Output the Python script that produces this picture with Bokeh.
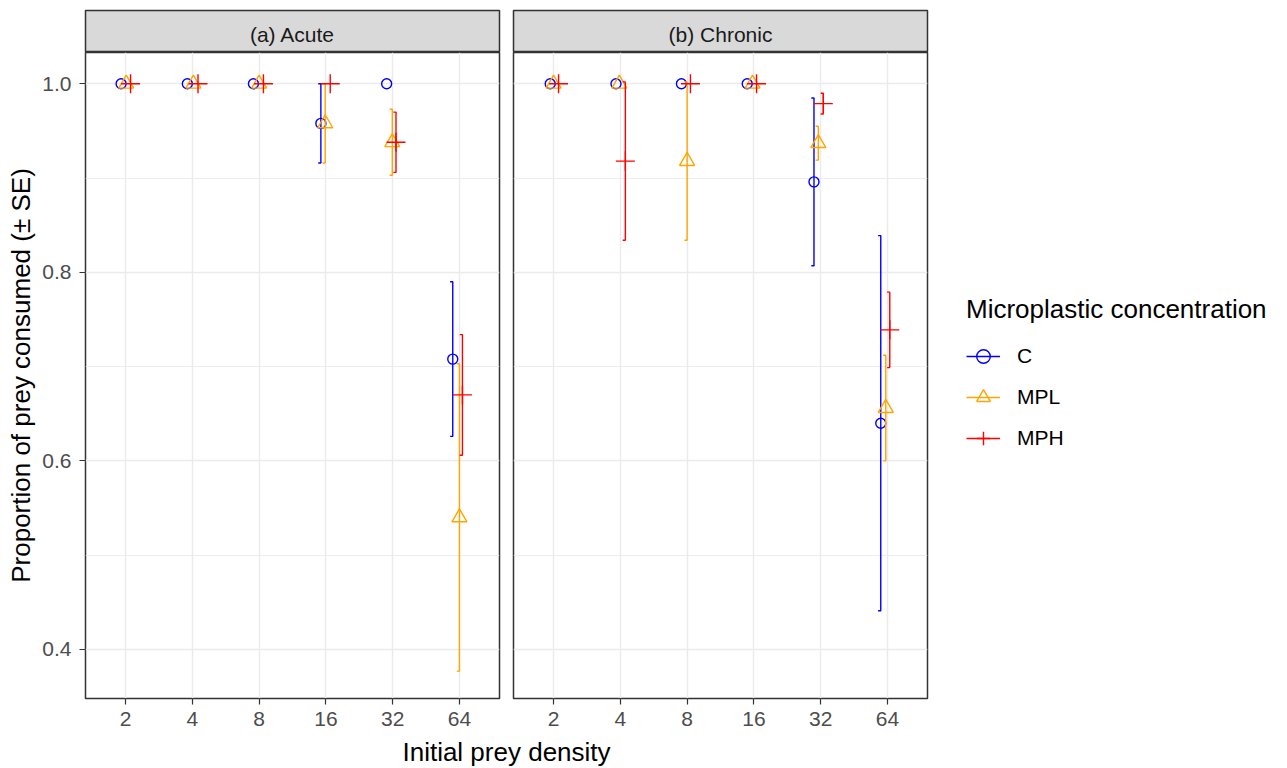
import numpy as np
from bokeh.plotting import figure
from bokeh.models import FixedTicker, Range1d, Legend, LegendItem, PrintfTickFormatter
from bokeh.layouts import column, row
from bokeh.embed import file_html
from bokeh.resources import INLINE
from bokeh.core.properties import value

# ---------------- data ----------------
densities = ["2", "4", "8", "16", "32", "64"]
groups = ["C", "MPL", "MPH"]
panel_titles = ["(a) Acute", "(b) Chronic"]
legend_title = "Microplastic concentration"
x_title = "Initial prey density"
y_title = "Proportion of prey consumed (\u00b1 SE)"
y_ticks = [0.4, 0.6, 0.8, 1.0]
y_minor = [0.5, 0.7, 0.9]

# (a) Acute
acute_C = [1.0, 1.0, 1.0, 0.958, 1.0, 0.708]
acute_C_se = [0, 0, 0, 0.042, 0, 0.082]
acute_MPL = [1.0, 1.0, 1.0, 0.958, 0.938, 0.540]
acute_MPL_se = [0, 0, 0, 0.042, 0.035, 0.163]
acute_MPH = [1.0, 1.0, 1.0, 1.0, 0.938, 0.670]
acute_MPH_se = [0, 0, 0, 0, 0.032, 0.064]

# (b) Chronic
chronic_C = [1.0, 1.0, 1.0, 1.0, 0.896, 0.640]
chronic_C_se = [0, 0, 0, 0, 0.089, 0.199]
chronic_MPL = [1.0, 1.0, 0.918, 1.0, 0.937, 0.656]
chronic_MPL_se = [0, 0, 0.084, 0, 0.018, 0.056]
chronic_MPH = [1.0, 0.918, 1.0, 1.0, 0.979, 0.739]
chronic_MPH_se = [0, 0.084, 0, 0, 0.011, 0.040]

# horizontal jitter of each point (category units)
acute_C_jit = [-0.067, -0.075, -0.085, -0.075, -0.09, -0.10]
acute_MPL_jit = [0.01, 0.015, 0.0, -0.01, -0.005, 0.0]
acute_MPH_jit = [0.075, 0.085, 0.065, 0.065, 0.05, 0.045]
chronic_C_jit = [-0.05, -0.065, -0.085, -0.10, -0.10, -0.10]
chronic_MPL_jit = [0.0, -0.015, 0.0, -0.02, -0.035, -0.025]
chronic_MPH_jit = [0.075, 0.075, 0.05, 0.04, 0.04, 0.035]

# ---------------- styling ----------------
FONT = "Liberation Sans"
colors = {"C": "#0000FF", "MPL": "#FFA500", "MPH": "#FF0000"}
markers = {"C": "circle", "MPL": "triangle", "MPH": "cross"}
msizes = {"C": 10, "MPL": 15, "MPH": 19}
FW, FH = 414, 646
YLO, YHI = 0.348, 1.0332
CAP_L, CAP_R = 0.04, 0.005
LEFT_B, GAP, RIGHT_B = 85, 7, 355

panels = [
    {"C": (acute_C, acute_C_se, acute_C_jit),
     "MPL": (acute_MPL, acute_MPL_se, acute_MPL_jit),
     "MPH": (acute_MPH, acute_MPH_se, acute_MPH_jit)},
    {"C": (chronic_C, chronic_C_se, chronic_C_jit),
     "MPL": (chronic_MPL, chronic_MPL_se, chronic_MPL_jit),
     "MPH": (chronic_MPH, chronic_MPH_se, chronic_MPH_jit)},
]

cat_pos = np.arange(1, len(densities) + 1)


def style_axis(ax, standoff):
    ax.axis_line_color = None
    ax.major_tick_line_color = "#333333"
    ax.major_tick_line_width = 1.2
    ax.major_tick_out = 6
    ax.major_tick_in = 0
    ax.minor_tick_line_color = None
    ax.major_label_text_font = FONT
    ax.major_label_text_font_size = "21px"
    ax.major_label_text_color = "#4D4D4D"
    ax.major_label_standoff = standoff


def make_strip(text, is_left):
    s = figure(frame_width=FW, frame_height=42, x_range=Range1d(0, 1), y_range=Range1d(0, 1),
               x_axis_location=None, y_axis_location=None, toolbar_location=None, tools="",
               output_backend="svg", title=None,
               min_border_left=LEFT_B if is_left else GAP,
               min_border_right=GAP if is_left else RIGHT_B,
               min_border_top=10, min_border_bottom=0,
               background_fill_color="#D9D9D9", outline_line_color="#333333",
               outline_line_width=1.5)
    s.grid.visible = False
    s.text(x=[0.5], y=[0.42], text=[text], text_align="center", text_baseline="middle",
           text_font=value(FONT), text_font_size="21px", text_color="#1A1A1A")
    return s


def make_panel(data, is_left):
    p = figure(frame_width=FW, frame_height=FH, x_range=Range1d(0.4, 6.6),
               y_range=Range1d(YLO, YHI), x_axis_location="below",
               y_axis_location="left" if is_left else None,
               toolbar_location=None, tools="", output_backend="svg", title=None,
               min_border_left=LEFT_B if is_left else GAP,
               min_border_right=GAP if is_left else RIGHT_B,
               min_border_top=0, min_border_bottom=40,
               outline_line_color="#333333", outline_line_width=1.5)
    xt = FixedTicker(ticks=list(cat_pos))
    yt = FixedTicker(ticks=y_ticks, minor_ticks=y_minor)
    p.xaxis.ticker = xt
    p.xaxis.major_label_overrides = {int(i): d for i, d in zip(cat_pos, densities)}
    p.xgrid.ticker = xt
    p.ygrid.ticker = yt
    p.xgrid.grid_line_color = "#EBEBEB"
    p.xgrid.grid_line_width = 1.4
    p.ygrid.grid_line_color = "#EBEBEB"
    p.ygrid.grid_line_width = 1.4
    p.ygrid.minor_grid_line_color = "#EBEBEB"
    p.ygrid.minor_grid_line_width = 0.9
    for ax in p.xaxis:
        style_axis(ax, 7)
    if is_left:
        p.yaxis.ticker = yt
        p.yaxis.formatter = PrintfTickFormatter(format="%.1f")
        for ax in p.yaxis:
            style_axis(ax, 8)
            ax.axis_label = y_title
            ax.axis_label_text_font = FONT
            ax.axis_label_text_font_size = "26px"
            ax.axis_label_text_font_style = "normal"
            ax.axis_label_text_color = "#000000"
            ax.axis_label_standoff = 3

    rends = {}
    for g in groups:
        vals, ses, jit = data[g]
        xs = cat_pos + np.array(jit)
        y = np.array(vals)
        se = np.array(ses)
        m = se > 0
        xm, ym, sm = xs[m], y[m], se[m]
        x0 = np.concatenate([xm, xm - CAP_L, xm - CAP_L])
        x1 = np.concatenate([xm, xm + CAP_R, xm + CAP_R])
        y0 = np.concatenate([ym - sm, ym + sm, ym - sm])
        y1 = np.concatenate([ym + sm, ym + sm, ym - sm])
        seg = p.segment(x0=x0, y0=y0, x1=x1, y1=y1, line_color=colors[g], line_width=1.4)
        sc = p.scatter(x=xs, y=y, marker=markers[g], size=msizes[g], line_color=colors[g],
                       fill_color=None, line_width=1.4)
        rends[g] = (seg, sc)
    return p, rends


stripA = make_strip(panel_titles[0], True)
stripB = make_strip(panel_titles[1], False)
panelA, _ = make_panel(panels[0], True)
panelB, rendsB = make_panel(panels[1], False)

legend = Legend(
    items=[LegendItem(label=g, renderers=list(rendsB[g])) for g in groups],
    location=(39, 243), title=legend_title,
    title_text_font=FONT, title_text_font_size="26px", title_text_font_style="normal",
    title_text_color="#000000", title_standoff=14,
    label_text_font=FONT, label_text_font_size="21px", label_text_color="#000000",
    label_standoff=17, glyph_width=34, glyph_height=34, label_height=34, spacing=7,
    padding=0, margin=0, border_line_color=None, background_fill_alpha=0,
)
panelB.add_layout(legend, "right")

xt_fig = figure(frame_width=2 * FW + 2 * GAP, frame_height=28, x_range=Range1d(0, 1),
                y_range=Range1d(0, 1), x_axis_location=None, y_axis_location=None,
                toolbar_location=None, tools="", output_backend="svg", title=None,
                min_border_left=LEFT_B, min_border_right=RIGHT_B,
                min_border_top=0, min_border_bottom=0, outline_line_color=None)
xt_fig.grid.visible = False
xt_fig.text(x=[0.5], y=[0.51], text=[x_title], text_align="center", text_baseline="middle",
            text_font=value(FONT), text_font_size="26px", text_color="#000000")

layout = column(row(column(stripA, panelA), column(stripB, panelB)), xt_fig)

open("out.html", "w").write(file_html(layout, INLINE))
